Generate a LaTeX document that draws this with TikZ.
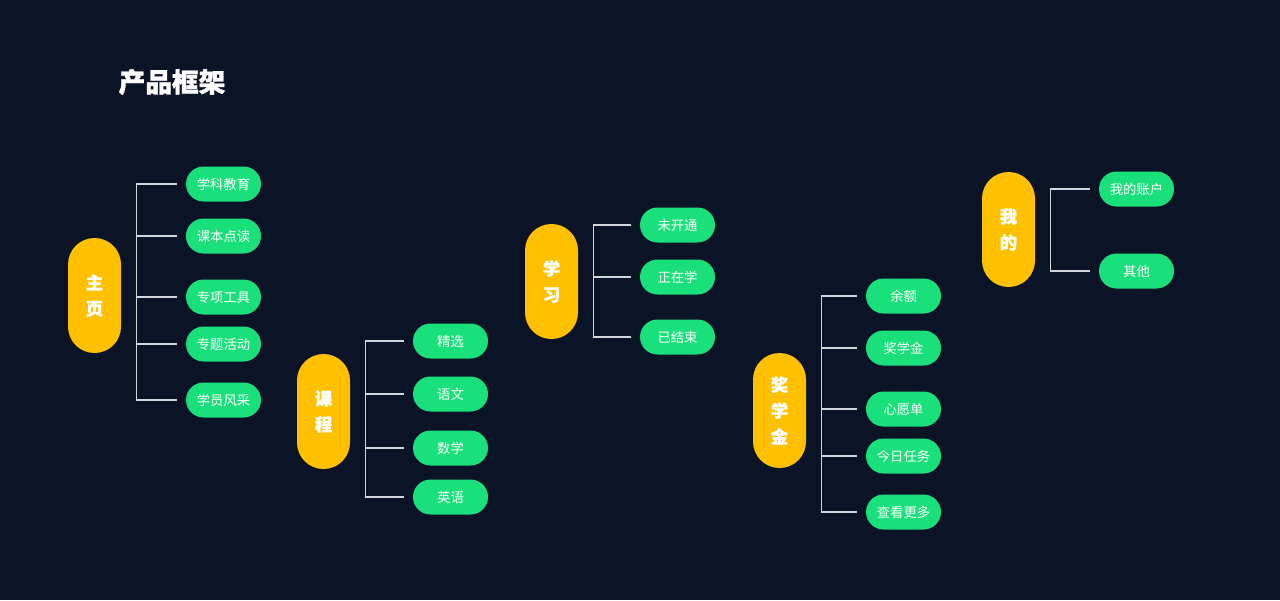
\documentclass[tikz,border=0pt]{standalone}
\usepackage{fontspec}
\usepackage{tikz}
\usetikzlibrary{positioning}
\newfontfamily\cjk{Noto Sans CJK SC}
\newfontfamily\cjkheavy[BoldFeatures={FakeBold=1.2}]{Noto Sans CJK SC}
\definecolor{bgnavy}{HTML}{0B1327}
\definecolor{pillyellow}{HTML}{FFC000}
\definecolor{pillgreen}{HTML}{19E07A}
\definecolor{linkgray}{HTML}{D2D5DC}
\tikzset{yellowpill/.style = {fill=pillyellow, text=white, font=\cjkheavy\bfseries\fontsize{13}{19.5}\selectfont,
                              minimum width=39.75pt, minimum height=86.25pt,
                              rounded corners=19.8pt, align=center, inner sep=0pt},
         greenpill/.style = {fill=pillgreen, text=white, font=\cjk\fontsize{10}{12}\selectfont,
                             minimum width=56.25pt, minimum height=26.25pt,
                             rounded corners=13.1pt, inner sep=0pt},
         link/.style = {draw=linkgray, line width=0.8pt}}

\begin{document}
\begin{tikzpicture}[x=0.75pt, y=-0.75pt]
      \fill [bgnavy] (0, 0) rectangle (1280, 600);
      \useasboundingbox (0, 0) rectangle (1280, 600);
      \node [text=white, font=\cjkheavy\bfseries\fontsize{20}{24}\selectfont] (title) at (172, 82) {产品框架};

      % parents
      \node [yellowpill] (home) at (94.5, 295.5) {主\\页};
      \node [yellowpill] (course) at (323.5, 411.5) {课\\程};
      \node [yellowpill] (study) at (551.5, 281.5) {学\\习};
      \node [yellowpill] (award) at (779.5, 410.5) {奖\\学\\金};
      \node [yellowpill] (mine) at (1008.5, 229.5) {我\\的};

      % children
      \foreach \y/\t [count=\i] in {184/学科教育, 236/课本点读, 297/专项工具, 344/专题活动, 400/学员风采} {
        \node [greenpill] (home\i) at (223.5, \y) {\t};
      }
      \foreach \y/\t [count=\i] in {341/精选, 394/语文, 448/数学, 497/英语} {
        \node [greenpill] (course\i) at (450.5, \y) {\t};
      }
      \foreach \y/\t [count=\i] in {225/未开通, 277/正在学, 337/已结束} {
        \node [greenpill] (study\i) at (677.5, \y) {\t};
      }
      \foreach \y/\t [count=\i] in {296/余额, 348/奖学金, 409/心愿单, 456/今日任务, 512/查看更多} {
        \node [greenpill] (award\i) at (903.5, \y) {\t};
      }
      \foreach \y/\t [count=\i] in {189/我的账户, 271/其他} {
        \node [greenpill] (mine\i) at (1136.5, \y) {\t};
      }

      % spines
      \coordinate (homespine) at ([xshift=11.25pt]home.east);
      \coordinate (coursespine) at ([xshift=11.25pt]course.east);
      \coordinate (studyspine) at ([xshift=11.25pt]study.east);
      \coordinate (awardspine) at ([xshift=11.25pt]award.east);
      \coordinate (minespine) at ([xshift=11.25pt]mine.east);

      \draw [link] (homespine |- home1.west) -- (homespine |- home5.west);
      \draw [link] (coursespine |- course1.west) -- (coursespine |- course4.west);
      \draw [link] (studyspine |- study1.west) -- (studyspine |- study3.west);
      \draw [link] (awardspine |- award1.west) -- (awardspine |- award5.west);
      \draw [link] (minespine |- mine1.west) -- (minespine |- mine2.west);

      \foreach \i in {1,...,5} {
        \draw [link, shorten >=6.75pt] (homespine |- home\i.west) -- (home\i.west);
        \draw [link, shorten >=6.75pt] (awardspine |- award\i.west) -- (award\i.west);
      }
      \foreach \i in {1,...,4} {
        \draw [link, shorten >=6.75pt] (coursespine |- course\i.west) -- (course\i.west);
      }
      \foreach \i in {1,...,3} {
        \draw [link, shorten >=6.75pt] (studyspine |- study\i.west) -- (study\i.west);
      }
      \foreach \i in {1,2} {
        \draw [link, shorten >=6.75pt] (minespine |- mine\i.west) -- (mine\i.west);
      }
    \end{tikzpicture}
\end{document}
